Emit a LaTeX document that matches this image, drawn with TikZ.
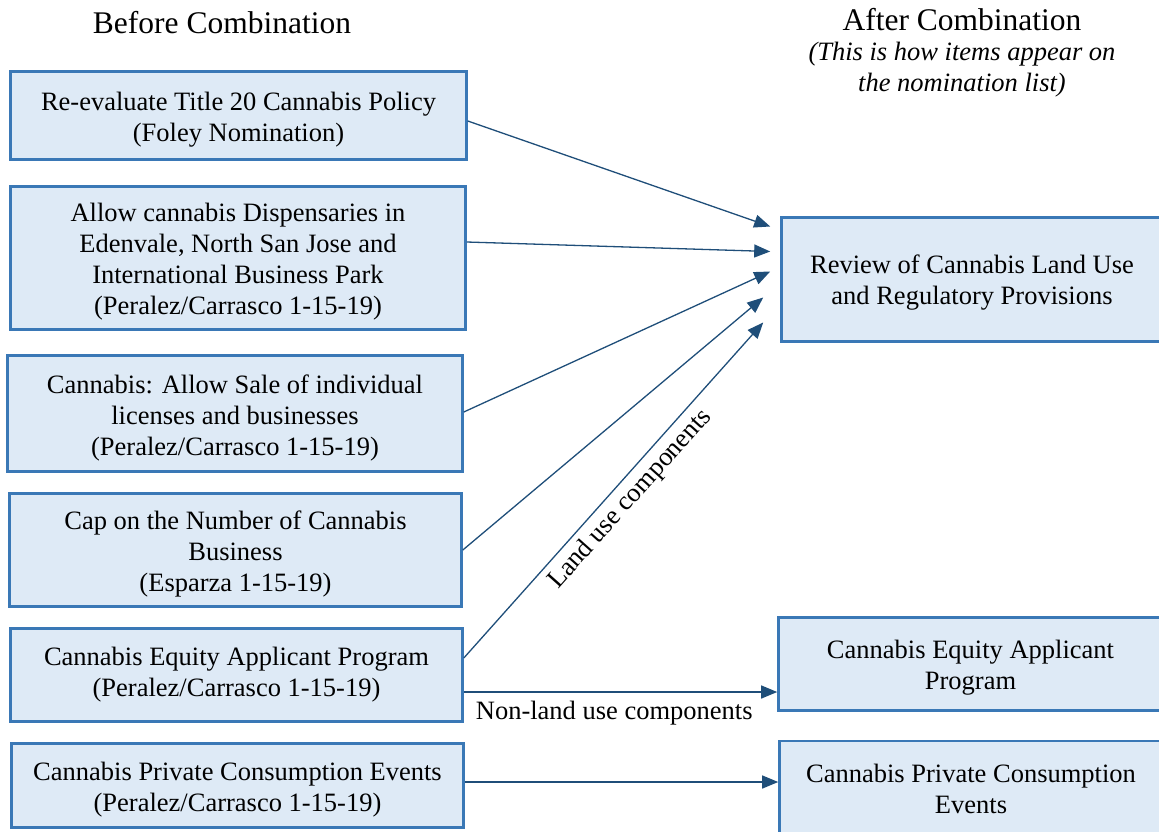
\documentclass[tikz,border=0pt]{standalone}
\usepackage{fontspec}
\setmainfont{Liberation Serif}
\usetikzlibrary{arrows.meta,calc}
\definecolor{boxfill}{HTML}{DEEAF6}
\definecolor{boxline}{HTML}{3A78B6}
\definecolor{arrowc}{HTML}{1F4E79}
\begin{document}
\begin{tikzpicture}[x=1pt,y=-1pt,
  box/.style={draw=boxline, fill=boxfill, line width=2.6pt, inner sep=0pt},
  boxtext/.style={align=center, font=\fontsize{26.5}{31}\selectfont, inner sep=0pt},
  conn/.style={draw=arrowc, line width=1.3pt, -{Triangle[length=16pt,width=13pt]}},
  lbl/.style={font=\fontsize{26.5}{31}\selectfont},
  ttl/.style={font=\fontsize{31.5}{36}\selectfont}]
\useasboundingbox (0,0) rectangle (1159,831);

% titles
\node[ttl, anchor=base] (tb) at (222,33) {Before Combination};
\node[ttl, anchor=base] (ta) at (962,30) {After Combination};
\node[lbl, align=center, font=\fontsize{26.5}{31}\selectfont\itshape] (tn) at (962,70)
  {(This is how items appear on\\the nomination list)};

% left boxes
\node[box, minimum width=456, minimum height=88] (B1) at (238.5,115.5) {};
\node[boxtext] (t1) at ($(B1)+(0,4)$) {Re-evaluate Title 20 Cannabis Policy\\(Foley Nomination)};
\node[box, minimum width=455, minimum height=143] (B2) at (238,258) {};
\node[boxtext] (t2) at ($(B2)+(0,4)$) {Allow cannabis Dispensaries in\\Edenvale, North San Jose and\\International Business Park\\(Peralez/Carrasco 1-15-19)};
\node[box, minimum width=455, minimum height=116] (B3) at (235,413.5) {};
\node[boxtext] (t3) at ($(B3)+(0,4)$) {Cannabis: Allow Sale of individual\\licenses and businesses\\(Peralez/Carrasco 1-15-19)};
\node[box, minimum width=452, minimum height=113] (B4) at (235.5,550) {};
\node[boxtext] (t4) at ($(B4)+(0,4)$) {Cap on the Number of Cannabis\\Business\\(Esparza 1-15-19)};
\node[box, minimum width=452, minimum height=93] (B5) at (236.5,675) {};
\node[boxtext] (t5) at ($(B5)+(0,0)$) {Cannabis Equity Applicant Program\\(Peralez/Carrasco 1-15-19)};
\node[box, minimum width=452, minimum height=84] (B6) at (237.5,785.5) {};
\node[boxtext] (t6) at ($(B6)+(0,4)$) {Cannabis Private Consumption Events\\(Peralez/Carrasco 1-15-19)};

% right boxes
\node[box, minimum width=381, minimum height=124] (R1) at (972,279.5) {};
\node[boxtext] (u1) at ($(R1)+(0,3)$) {Review of Cannabis Land Use\\and Regulatory Provisions};
\node[box, minimum width=384, minimum height=93] (R2) at (970.5,664) {};
\node[boxtext] (u2) at ($(R2)+(0,4)$) {Cannabis Equity Applicant\\Program};
\node[box, minimum width=383, minimum height=94] (R3) at (971,788) {};
\node[boxtext] (u3) at ($(R3)+(0,1)$) {Cannabis Private Consumption\\Events};

% arrow end points
\coordinate (e1) at ($(R1.west)+(-10,-53)$);
\coordinate (e2) at ($(R1.west)+(-10,-28)$);
\coordinate (e3) at ($(R1.west)+(-10,-8)$);
\coordinate (e4) at ($(R1.west)+(-17,18)$);
\coordinate (e5) at ($(R1.west)+(-17,43)$);

\draw[conn] ($(B1.east)+(0,5.5)$) -- (e1);
\draw[conn] ($(B2.east)+(0,-16)$) -- (e2);
\draw[conn] ($(B3.east)+(0,-1.5)$) -- (e3);
\draw[conn] (B4.east) -- (e4);
\draw[conn] ($(B5.east)+(0,-17)$) -- node[lbl, pos=0.51, below, sloped, inner sep=6pt] (l1) {Land use components} (e5);
\draw[conn] ($(B5.east)+(0,17)$) -- node[lbl, pos=0.48, below, inner sep=8pt] (l2) {Non-land use components} ($(R2.west)+(0,28)$);
\draw[conn] ($(B6.east)+(0,-3.5)$) -- ($(R3.west)+(0,-6)$);
\end{tikzpicture}
\end{document}
